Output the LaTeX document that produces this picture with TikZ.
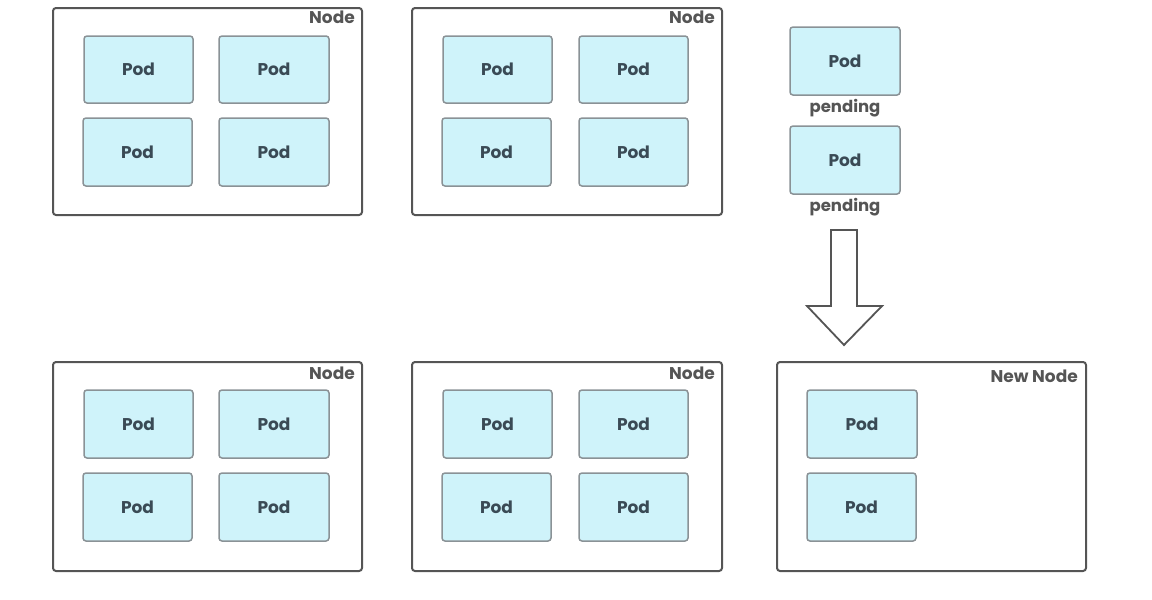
\documentclass[tikz,border=0pt]{standalone}
\usepackage{fontspec}
\setmainfont{Poppins}
\definecolor{podfill}{HTML}{CFF3FA}
\definecolor{podline}{HTML}{8A9296}
\definecolor{nodeline}{HTML}{555555}
\definecolor{podtext}{HTML}{3A4A55}
\definecolor{labtext}{HTML}{555555}
\begin{document}
\begin{tikzpicture}[x=1pt,y=-1pt,
  podbox/.style={draw=podline,fill=podfill,line width=1.5pt,rounded corners=3pt},
  nodebox/.style={draw=nodeline,line width=2pt,rounded corners=3pt},
  podlabel/.style={text=podtext,font=\bfseries\fontsize{17}{19}\selectfont},
  nodelabel/.style={text=labtext,font=\bfseries\fontsize{17}{19}\selectfont,anchor=north east,inner sep=0pt},
  pendlabel/.style={text=labtext,font=\bfseries\fontsize{16.5}{18}\selectfont},
  bigarrow/.style={draw=nodeline,line width=1.8pt,fill=white,line join=miter}]
\useasboundingbox (0,0) rectangle (1152,600);
% pod macro
\newcommand{\mypod}[5]{%
  \draw[podbox] (#1,#2) rectangle (#3,#4);
  \node[podlabel] (#5) at ({(#1+#3)/2},{(#2+#4)/2}) {Pod};}
% top-left node
\draw[nodebox] (53,8) rectangle (362,215);
\node[nodelabel] (n1) at (355,11) {Node};
\mypod{84}{36}{193}{103}{p11}
\mypod{219}{36}{329}{103}{p12}
\mypod{83}{118}{192}{186}{p13}
\mypod{219}{118}{329}{186}{p14}
% top-middle node
\draw[nodebox] (412,8) rectangle (722,215);
\node[nodelabel] (n2) at (715,11) {Node};
\mypod{443}{36}{552}{103}{p21}
\mypod{579}{36}{688}{103}{p22}
\mypod{442}{118}{551}{186}{p23}
\mypod{579}{118}{688}{186}{p24}
% pending pods
\mypod{790}{27}{900}{95}{pp1}
\node[pendlabel] (pl1) at (845,108) {pending};
\mypod{790}{126}{900}{194}{pp2}
\node[pendlabel] (pl2) at (845,207) {pending};
% arrow
\draw[bigarrow] (831,230) -- (857,230) -- (857,306) -- (882,306) -- (844,345) -- (807,306) -- (831,306) -- cycle;
% bottom-left node
\draw[nodebox] (53,362) rectangle (362,571);
\node[nodelabel] (n3) at (355,367) {Node};
\mypod{84}{390}{193}{458}{p31}
\mypod{219}{390}{329}{458}{p32}
\mypod{83}{473}{192}{541}{p33}
\mypod{219}{473}{329}{541}{p34}
% bottom-middle node
\draw[nodebox] (412,362) rectangle (722,571);
\node[nodelabel] (n4) at (715,367) {Node};
\mypod{443}{390}{552}{458}{p41}
\mypod{579}{390}{688}{458}{p42}
\mypod{442}{473}{551}{541}{p43}
\mypod{579}{473}{688}{541}{p44}
% new node
\draw[nodebox] (777,362) rectangle (1086,571);
\node[nodelabel] (n5) at (1078,370) {New Node};
\mypod{807}{390}{917}{458}{p51}
\mypod{807}{473}{916}{541}{p52}
\end{tikzpicture}
\end{document}
